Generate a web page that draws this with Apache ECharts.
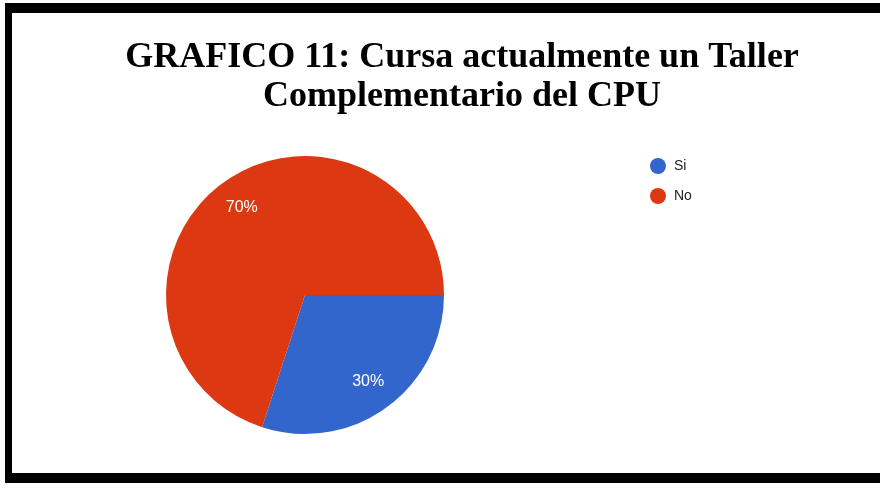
<!DOCTYPE html>
<html>
<head>
<meta charset="utf-8">
<script src="https://cdn.jsdelivr.net/npm/echarts@6/dist/echarts.min.js"></script>
<style>
html, body { margin: 0; padding: 0; background: #fff; }
#chart { width: 880px; height: 497px; }
</style>
</head>
<body>
<div id="chart"></div>
<script>
// datos del grafico
var categorias = ['Si', 'No'];
var valores = [30, 70];
var colores = ['#3366cc', '#dc3912'];

var datos = categorias.map(function(c, i){
	return { name: c, value: valores[i] };
});

var chart = echarts.init(document.getElementById('chart'));
var opt = {
	backgroundColor: '#fff',
	color: colores,
	title: {
		text: 'GRAFICO 11: Cursa actualmente un Taller\nComplementario del CPU',
		left: 457,
		top: 33,
		textAlign: 'center',
		textStyle: {
			fontFamily: 'Liberation Serif',
			fontWeight: 'bold',
			fontSize: 36,
			lineHeight: 39,
			color: '#000'
		}
	},
	legend: {
		orient: 'vertical',
		left: 645,
		top: 153,
		icon: 'circle',
		itemWidth: 16,
		itemHeight: 16,
		itemGap: 14,
		data: categorias,
		textStyle: { fontFamily: 'Liberation Sans', fontSize: 14, color: '#222', padding: [0, 0, 0, 3] }
	},
	series: [
		{
			type: 'pie',
			center: [305, 295],
			radius: [0, 139],
			startAngle: 0,
			clockwise: true,
			label: { show: false },
			labelLine: { show: false },
			emphasis: { disabled: true },
			data: datos
		},
		{
			// capa transparente solo para ubicar las etiquetas
			type: 'pie',
			center: [305, 295],
			radius: [70, 139],
			startAngle: 0,
			clockwise: true,
			silent: true,
			itemStyle: { color: 'transparent' },
			label: {
				show: true,
				position: 'inside',
				formatter: '{d}%',
				color: '#fff',
				fontFamily: 'Liberation Sans',
				fontSize: 16
			},
			labelLine: { show: false },
			data: datos
		}
	],
	graphic: [
		{ type: 'rect', shape: { x: 5, y: 3, width: 880, height: 10 }, style: { fill: '#000' } },
		{ type: 'rect', shape: { x: 5, y: 3, width: 7, height: 480 }, style: { fill: '#000' } },
		{ type: 'rect', shape: { x: 5, y: 473, width: 880, height: 10 }, style: { fill: '#000' } }
	]
};
chart.setOption(opt);
</script>
</body>
</html>
